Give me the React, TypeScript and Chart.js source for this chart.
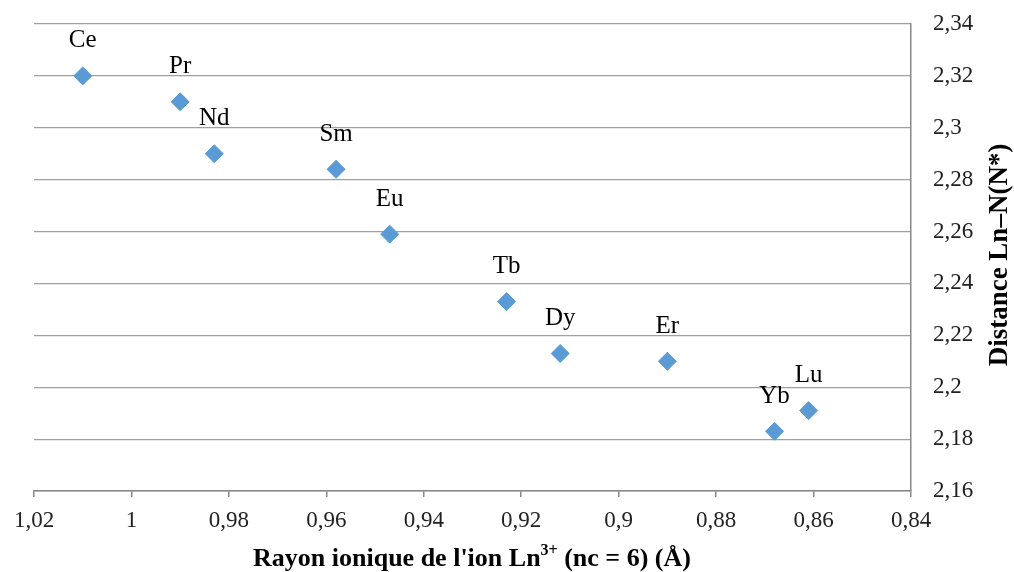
import React, { useEffect, useRef } from "react";
import { Chart, registerables } from "chart.js";

Chart.register(...registerables);

const elements = ["Ce", "Pr", "Nd", "Sm", "Eu", "Tb", "Dy", "Er", "Yb", "Lu"];
const ionicRadius = [1.01, 0.99, 0.983, 0.958, 0.947, 0.923, 0.912, 0.89, 0.868, 0.861];
const distance = [2.32, 2.31, 2.29, 2.284, 2.259, 2.233, 2.213, 2.21, 2.183, 2.191];

const xTitleMain = "Rayon ionique de l'ion Ln";
const xTitleSup = "3+";
const xTitleEnd = " (nc = 6) (Å)";
const yTitle = "Distance Ln–N(N*)";

const FONT = "'Liberation Serif', 'DejaVu Serif', serif";

const fmt = (v: number) => String(Math.round(v * 100) / 100).replace(".", ",");

const overlayPlugin = {
  id: "overlay",
  afterDatasetsDraw(chart: any) {
    const ctx = chart.ctx;
    const meta = chart.getDatasetMeta(0);
    ctx.save();
    ctx.fillStyle = "#000";
    ctx.font = `25px ${FONT}`;
    ctx.textAlign = "center";
    ctx.textBaseline = "middle";
    meta.data.forEach((pt: any, i: number) => {
      ctx.fillText(elements[i], pt.x, pt.y - 35);
    });

    // x title with superscript
    const boldMain = `bold 26px ${FONT}`;
    const boldSup = `bold 16px ${FONT}`;
    ctx.font = boldMain;
    const w1 = ctx.measureText(xTitleMain).width;
    const w3 = ctx.measureText(xTitleEnd).width;
    ctx.font = boldSup;
    const w2 = ctx.measureText(xTitleSup).width;
    const total = w1 + w2 + w3;
    const cx = 472;
    let x = cx - total / 2;
    const y = 557;
    ctx.textAlign = "left";
    ctx.textBaseline = "alphabetic";
    ctx.font = boldMain;
    ctx.fillText(xTitleMain, x, y + 9);
    x += w1;
    ctx.font = boldSup;
    ctx.fillText(xTitleSup, x, y - 2);
    x += w2;
    ctx.font = boldMain;
    ctx.fillText(xTitleEnd, x, y + 9);

    // y title rotated, reading bottom to top
    ctx.translate(1000, 255);
    ctx.rotate(-Math.PI / 2);
    ctx.textAlign = "center";
    ctx.textBaseline = "middle";
    ctx.font = `bold 27px ${FONT}`;
    ctx.fillText(yTitle, 0, 0);
    ctx.restore();
  },
};

export default function App() {
  const ref = useRef<HTMLCanvasElement>(null);
  useEffect(() => {
    if (!ref.current) return;
    const chart = new Chart(ref.current, {
      type: "scatter",
      data: {
        datasets: [
          {
            data: ionicRadius.map((r, i) => ({ x: r, y: distance[i] })),
            backgroundColor: "#5B9BD5",
            borderColor: "#5B9BD5",
            borderWidth: 1,
            pointStyle: "rectRot",
            pointRadius: 9,
          },
        ],
      },
      options: {
        animation: false,
        responsive: false,
        devicePixelRatio: 1,
        layout: { padding: { left: 34, top: 24, right: 0, bottom: 0 } },
        plugins: { legend: { display: false }, tooltip: { enabled: false } },
        scales: {
          x: {
            type: "linear",
            position: "bottom",
            min: 0.84,
            max: 1.02,
            reverse: true,
            afterFit: (s: any) => {
              s.height = 81;
              s.paddingLeft = 0;
              s.paddingRight = 0;
            },
            ticks: {
              stepSize: 0.02,
              callback: (v: any) => fmt(Number(v)),
              font: { family: FONT, size: 23 },
              color: "#222",
              padding: 10,
              maxRotation: 0,
            },
            grid: {
              drawOnChartArea: false,
              drawTicks: true,
              tickLength: 6,
              color: "#888",
              lineWidth: 1.5,
            },
            border: { color: "#888", width: 1.5 },
          },
          y: {
            type: "linear",
            position: "right",
            min: 2.16,
            max: 2.34,
            afterFit: (s: any) => {
              s.width = 103;
              s.paddingTop = 0;
              s.paddingBottom = 0;
            },
            ticks: {
              stepSize: 0.02,
              callback: (v: any) => fmt(Number(v)),
              font: { family: FONT, size: 23 },
              color: "#222",
              padding: 22,
              crossAlign: "near",
            },
            grid: {
              drawTicks: false,
              color: "#a0a0a0",
              lineWidth: 1.2,
            },
            border: { color: "#888", width: 1.5 },
          },
        },
      },
      plugins: [overlayPlugin],
    });
    return () => chart.destroy();
  }, []);
  return (
    <div style={{ position: "fixed", left: 0, top: 0, width: 1014, height: 572, background: "#fff" }}>
      <canvas ref={ref} width={1014} height={572} style={{ display: "block" }} />
    </div>
  );
}
